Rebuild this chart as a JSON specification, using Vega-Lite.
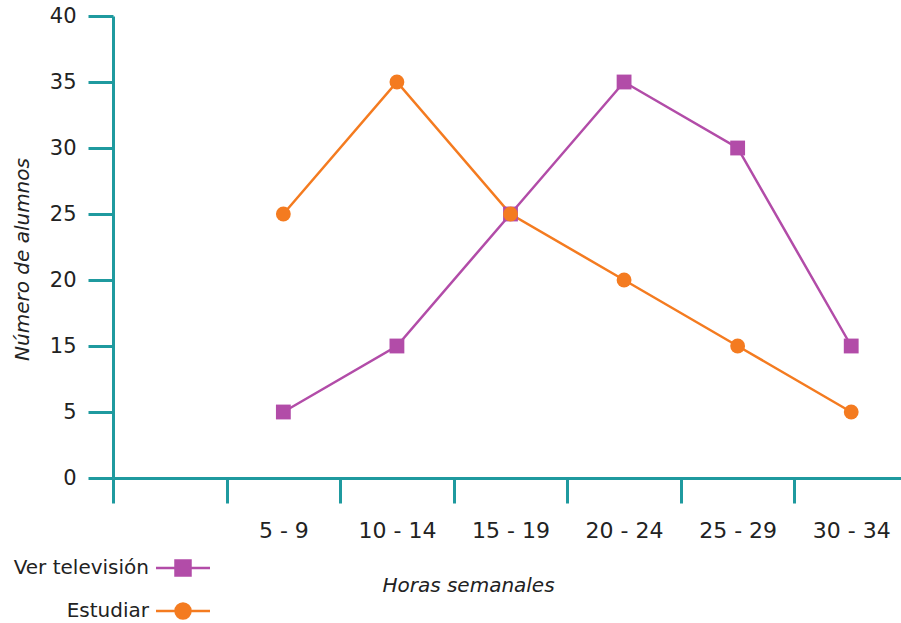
{
  "$schema": "https://vega.github.io/schema/vega-lite/v6.json",
  "autosize": "none",
  "width": 788,
  "height": 462,
  "padding": {"left": 113, "top": 16, "right": 0, "bottom": 145},
  "background": "white",
  "config": {
    "view": {"stroke": null},
    "font": "DejaVu Sans"
  },
  "data": {
    "values": [
      {"horas": "5 - 9", "serie": "Ver televisión", "alumnos": 5},
      {"horas": "10 - 14", "serie": "Ver televisión", "alumnos": 15},
      {"horas": "15 - 19", "serie": "Ver televisión", "alumnos": 25},
      {"horas": "20 - 24", "serie": "Ver televisión", "alumnos": 35},
      {"horas": "25 - 29", "serie": "Ver televisión", "alumnos": 30},
      {"horas": "30 - 34", "serie": "Ver televisión", "alumnos": 15},
      {"horas": "5 - 9", "serie": "Estudiar", "alumnos": 25},
      {"horas": "10 - 14", "serie": "Estudiar", "alumnos": 35},
      {"horas": "15 - 19", "serie": "Estudiar", "alumnos": 25},
      {"horas": "20 - 24", "serie": "Estudiar", "alumnos": 20},
      {"horas": "25 - 29", "serie": "Estudiar", "alumnos": 15},
      {"horas": "30 - 34", "serie": "Estudiar", "alumnos": 5}
    ]
  },
  "encoding": {
    "x": {
      "field": "horas",
      "type": "ordinal",
      "scale": {
        "type": "point",
        "domain": [" ", "5 - 9", "10 - 14", "15 - 19", "20 - 24", "25 - 29", "30 - 34"],
        "padding": 0.5,
        "range": [0, 795]
      },
      "axis": {
        "title": "Horas semanales",
        "labelAngle": 0,
        "grid": false,
        "domainColor": "#1f9a9f",
        "domainWidth": 3,
        "tickColor": "#1f9a9f",
        "tickWidth": 3,
        "tickSize": 25,
        "tickOffset": -56.8,
        "labelOffset": 56.8,
        "labelPadding": 17,
        "labelFont": "DejaVu Sans",
        "labelFontSize": 22,
        "labelColor": "#222222",
        "titleFont": "DejaVu Sans",
        "titleFontSize": 20,
        "titleFontStyle": "italic",
        "titleFontWeight": "normal",
        "titleColor": "#222222",
        "titleAnchor": null,
        "titleAlign": "center",
        "titleBaseline": "middle",
        "titleX": 355,
        "titleY": 107
      }
    },
    "y": {
      "field": "alumnos",
      "type": "quantitative",
      "scale": {
        "domain": [0, 5, 15, 40],
        "range": [462, 396, 330, 0],
        "nice": false,
        "zero": false
      },
      "axis": {
        "title": "Número de alumnos",
        "values": [0, 5, 15, 20, 25, 30, 35, 40],
        "grid": false,
        "domainColor": "#1f9a9f",
        "domainWidth": 3,
        "tickColor": "#1f9a9f",
        "tickWidth": 3,
        "tickSize": 25,
        "labelPadding": 12,
        "labelFont": "DejaVu Sans",
        "labelFontSize": 21,
        "labelColor": "#222222",
        "titleFont": "DejaVu Sans",
        "titleFontSize": 20,
        "titleFontStyle": "italic",
        "titleFontWeight": "normal",
        "titleColor": "#222222",
        "titleAnchor": null,
        "titleAlign": "center",
        "titleBaseline": "middle",
        "titleAngle": -90,
        "titleX": -91,
        "titleY": 243
      }
    },
    "color": {
      "field": "serie",
      "type": "nominal",
      "scale": {"domain": ["Ver televisión", "Estudiar"], "range": ["#b24ca8", "#f47b20"]},
      "legend": {
        "title": null,
        "orient": "none",
        "legendX": 60,
        "legendY": 542,
        "padding": 0,
        "rowPadding": 17,
        "symbolSize": 225,
        "symbolStrokeWidth": 2.5,
        "labelAlign": "right",
        "labelOffset": -44,
        "labelFont": "DejaVu Sans",
        "labelFontSize": 20,
        "labelColor": "#222222",
        "labelLimit": 400,
        "encode": {
          "symbols": {
            "update": {
              "shape": {"signal": "datum.value === 'Estudiar' ? 'M-3.6,0H3.6M-1,0A1,1 0 1,1 1,0A1,1 0 1,1 -1,0Z' : 'M-3.6,0H3.6M-1,-1H1V1H-1Z'"},
              "fill": {"signal": "datum.value === 'Estudiar' ? '#f47b20' : '#b24ca8'"},
              "stroke": {"signal": "datum.value === 'Estudiar' ? '#f47b20' : '#b24ca8'"},
              "strokeWidth": {"value": 2.5},
              "opacity": {"value": 1}
            }
          }
        }
      }
    }
  },
  "layer": [
    {
      "mark": {"type": "line", "strokeWidth": 2.5}
    },
    {
      "mark": {"type": "point", "filled": true, "opacity": 1, "size": 220},
      "encoding": {
        "shape": {
          "condition": {"test": "datum.serie === 'Estudiar'", "value": "circle"},
          "value": "square"
        }
      }
    }
  ]
}
